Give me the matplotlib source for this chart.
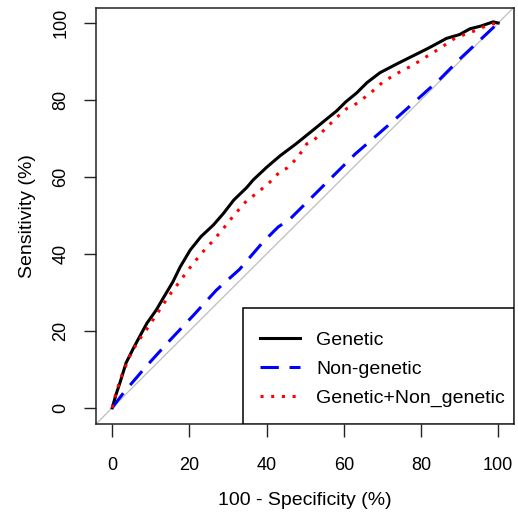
import numpy as np
import matplotlib.pyplot as plt
from matplotlib.patches import Rectangle

plt.rcParams['font.family'] = ['Liberation Sans', 'DejaVu Sans']

# ROC curves (x = 100 - specificity, y = sensitivity, %)
gen_x = [0, 1, 2, 3.6, 5.5, 7.1, 9, 11.4, 13.5, 15.7, 17.6, 20.2, 23, 26.2, 28.8,
         31.5, 34.9, 36.5, 40, 43.5, 47.5, 52.2, 55, 58.2, 60.5, 63.3, 66, 69.4,
         74, 78, 82, 86.6, 90, 92.7, 95.5, 98.7, 100]
gen_y = [0, 3.5, 6.5, 11.7, 15.5, 18.5, 22, 25.4, 29, 32.7, 36.6, 41, 44.5, 47.5, 50.5,
         54, 57.3, 59.2, 62.5, 65.5, 68.5, 72.3, 74.6, 77.2, 79.5, 81.8, 84.5, 87.1,
         89.5, 91.5, 93.5, 96, 97, 98.5, 99.2, 100.3, 100]

non_x = [0, 3, 9, 15, 21, 27, 33, 39, 43, 46, 50, 57, 63, 69, 75, 80, 85, 90, 95, 100]
non_y = [0, 4, 11, 17.6, 24, 30.6, 36, 43, 47, 49, 53, 60, 66, 71.2, 76.5, 81, 85.5,
         90.6, 95.3, 100]

comb_x = [0, 1, 2.5, 4.5, 6.5, 8.8, 11, 13.1, 15.2, 17.4, 20.2, 23, 26.2, 28.8, 31.5,
          34.9, 37.4, 40.9, 43.5, 45.3, 48, 50.4, 52.2, 55.6, 58.2, 60.8, 62.5, 66.8,
          70.3, 74, 78, 81, 84.9, 88.4, 91, 94, 97.9, 100]
comb_y = [0, 3.9, 8.5, 13.3, 17, 20.2, 23.5, 26.7, 29.8, 32.7, 36.5, 40, 43.5, 46.6, 50,
          53.9, 55.7, 58.7, 61.4, 62.3, 65, 68.6, 69.5, 72.9, 75.5, 77.8, 78.5, 81.7,
          84.8, 87, 89.1, 91, 93.4, 95.8, 96.9, 98, 99.7, 100]

ticks = [0, 20, 40, 60, 80, 100]

W, H = 518, 512
fig = plt.figure(figsize=(W/100, H/100), dpi=100)
ax = fig.add_axes([96/W, 1 - 424/H, (514 - 96)/W, (424 - 8)/H])

ax.axline((0, 0), (100, 100), color='#bebebe', lw=0.9, zorder=1)
ax.plot(gen_x, gen_y, color='black', lw=2.2, label='Genetic', zorder=3)
ax.plot(non_x, non_y, color='#0000ff', lw=2.2, linestyle=(0, (6, 3.5)),
        label='Non-genetic', zorder=3)
ax.plot(comb_x, comb_y, color='#ff0000', lw=2.2, linestyle=(0, (1, 2.5)),
        dash_capstyle='butt', label='Genetic+Non_genetic', zorder=4)

ax.set_xlim(-4.2, 104.1)
ax.set_ylim(-4.2, 103.9)
ax.set_xticks(ticks)
ax.set_yticks(ticks)
ax.tick_params(length=9, width=1.0, labelsize=13, color='#222222')
ax.tick_params(axis='x', pad=15)
ax.tick_params(axis='y', pad=10)
plt.setp(ax.get_yticklabels(), rotation=90, va='center')
for s in ax.spines.values():
    s.set_linewidth(1.1)
    s.set_color('#222222')

ax.set_xlabel('100 - Specificity (%)', fontsize=14, labelpad=13)
ax.set_ylabel('Sensitivity (%)', fontsize=14, labelpad=12)

# legend box, R style: flush with the bottom-right corner of the plot region
box = Rectangle(((243 - 96)/418, 0), 1 - (243 - 96)/418, (424 - 308)/416,
                transform=ax.transAxes, facecolor='white', edgecolor='black',
                lw=1.1, zorder=5)
ax.add_patch(box)
leg = ax.legend(loc='upper left', bbox_to_anchor=(260/W, 1 - 331/H),
                bbox_transform=fig.transFigure, borderaxespad=0, borderpad=0,
                fontsize=14, frameon=False, handlelength=2.06,
                handletextpad=0.82, labelspacing=0.6)
leg.set_zorder(6)

plt.savefig('out.png', dpi=100)
